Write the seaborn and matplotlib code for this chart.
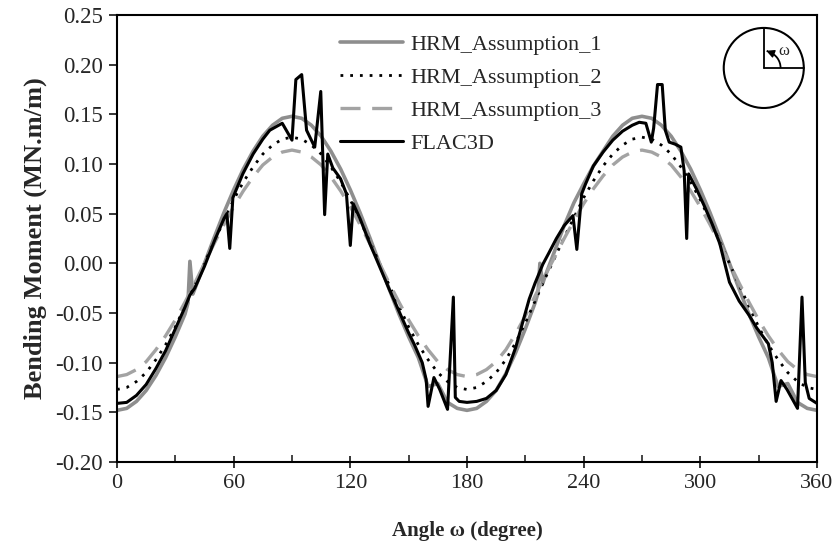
import matplotlib
matplotlib.use("Agg")
import matplotlib.pyplot as plt
import seaborn as sns
from matplotlib.patches import Circle, Arc
from matplotlib.ticker import MultipleLocator, FormatStrFormatter

# HRM curves (degree, MN.m/m)
hrm_angle = [0, 5, 10, 15, 20, 25, 30, 35, 40, 45, 50, 55, 60, 65, 70, 75, 80, 85, 90,
             95, 100, 105, 110, 115, 120, 125, 130, 135, 140, 145, 150, 155, 160, 165, 170, 175, 180,
             185, 190, 195, 200, 205, 210, 215, 220, 225, 230, 235, 240, 245, 250, 255, 260, 265, 270,
             275, 280, 285, 290, 295, 300, 305, 310, 315, 320, 325, 330, 335, 340, 345, 350, 355, 360]
hrm2 = [-0.127, -0.125, -0.119, -0.110, -0.097, -0.082, -0.064, -0.043, -0.022, 0.000,
        0.022, 0.043, 0.064, 0.082, 0.097, 0.110, 0.119, 0.125, 0.127,
        0.125, 0.119, 0.110, 0.097, 0.082, 0.064, 0.043, 0.022, 0.000, -0.022,
        -0.043, -0.064, -0.082, -0.097, -0.110, -0.119, -0.125, -0.127,
        -0.125, -0.119, -0.110, -0.097, -0.080, -0.060, -0.038, -0.016, 0.005,
        0.026, 0.046, 0.066, 0.083, 0.098, 0.110, 0.119, 0.125, 0.127,
        0.125, 0.119, 0.110, 0.097, 0.082, 0.064, 0.043, 0.022, 0.000, -0.022,
        -0.043, -0.064, -0.082, -0.097, -0.110, -0.119, -0.125, -0.127]
hrm3 = [-0.114, -0.112, -0.107, -0.099, -0.087, -0.073, -0.057, -0.039, -0.020, 0.000,
        0.020, 0.039, 0.057, 0.073, 0.087, 0.099, 0.107, 0.112, 0.114,
        0.112, 0.107, 0.099, 0.087, 0.073, 0.057, 0.039, 0.020, 0.000, -0.020,
        -0.039, -0.057, -0.073, -0.087, -0.099, -0.107, -0.112, -0.114,
        -0.112, -0.107, -0.099, -0.087, -0.071, -0.053, -0.033, -0.013, 0.006,
        0.025, 0.043, 0.060, 0.075, 0.088, 0.099, 0.107, 0.112, 0.114,
        0.112, 0.107, 0.099, 0.087, 0.073, 0.057, 0.039, 0.020, 0.000, -0.020,
        -0.039, -0.057, -0.073, -0.087, -0.099, -0.107, -0.112, -0.114]

hrm1_angle = [0, 5, 10, 15, 20, 25, 30, 35, 36.5, 37.5, 39, 40, 45, 50, 55, 60, 65, 70, 75, 80, 85, 90,
              95, 100, 105, 110, 115, 120, 125, 130, 135, 140, 145, 150, 155, 160, 165, 170, 175, 180,
              185, 190, 195, 200, 205, 210, 215, 216.5, 217.5, 219, 220, 225, 230, 235, 240, 245, 250,
              255, 260, 265, 270, 275, 280, 285, 290, 295, 300, 305, 310, 315, 320, 325, 330, 335,
              340, 345, 350, 355, 360]
hrm1 = [-0.148, -0.146, -0.139, -0.128, -0.113, -0.095, -0.074, -0.051, -0.040, 0.002, -0.031, -0.026,
        0.000, 0.026, 0.051, 0.074, 0.095, 0.113, 0.128, 0.139, 0.146, 0.148,
        0.146, 0.139, 0.128, 0.113, 0.095, 0.074, 0.051, 0.026, 0.000, -0.026,
        -0.051, -0.074, -0.095, -0.124, -0.121, -0.140, -0.146, -0.148,
        -0.146, -0.139, -0.128, -0.111, -0.090, -0.066, -0.040, -0.030, 0.000, -0.020, -0.014,
        0.012, 0.038, 0.061, 0.080, 0.098, 0.113, 0.128, 0.139, 0.146, 0.148,
        0.146, 0.139, 0.128, 0.113, 0.095, 0.074, 0.051, 0.026, 0.000, -0.026,
        -0.051, -0.074, -0.095, -0.124, -0.121, -0.140, -0.146, -0.148]

# FLAC3D result with its spikes
flac_angle = [0, 5, 10, 15, 20, 25, 30, 35, 37.5, 40, 45, 50, 55, 56.5, 58, 59.6, 64.7, 70, 75,
              78.6, 85, 90, 92, 95, 97.5, 101.7, 104.8, 106.8, 108.4, 111, 115, 118, 120, 121.5,
              125, 130, 135, 140, 145, 150, 153, 157, 159, 160, 163, 166, 170, 173, 174, 176, 180,
              185, 190, 195, 200, 205, 210, 212, 215, 219, 222, 226, 230, 234.5, 236.5, 239, 241,
              245, 250, 255, 260, 265, 268.6, 272, 274.8, 276, 278, 280.4, 282, 284, 287, 290,
              291.7, 293, 294, 298, 302, 306, 310, 315, 320, 325, 329, 332, 335, 337, 339, 341.5,
              344.6, 350, 352.3, 354, 356, 360]
flac = [-0.141, -0.140, -0.133, -0.122, -0.106, -0.088, -0.066, -0.044, -0.032, -0.025, -0.003,
        0.022, 0.045, 0.050, 0.015, 0.066, 0.090, 0.110, 0.125,
        0.134, 0.141, 0.124, 0.185, 0.190, 0.134, 0.117, 0.173, 0.049, 0.110, 0.096, 0.085,
        0.070, 0.018, 0.060,
        0.045, 0.020, -0.003, -0.026, -0.048, -0.070, -0.082, -0.100, -0.117, -0.144, -0.115,
        -0.127, -0.147, -0.034, -0.135, -0.139, -0.140,
        -0.139, -0.136, -0.128, -0.112, -0.085, -0.050, -0.036, -0.020, -0.001, 0.010, 0.025,
        0.038, 0.048, 0.014, 0.070, 0.080,
        0.098, 0.112, 0.124, 0.133, 0.139, 0.142, 0.141, 0.122, 0.136, 0.180, 0.180, 0.134,
        0.122, 0.120, 0.117,
        0.093, 0.025, 0.090, 0.075, 0.058, 0.040, 0.020, -0.019, -0.038, -0.052, -0.065,
        -0.073, -0.081, -0.100, -0.139, -0.118,
        -0.127, -0.146, -0.034, -0.120, -0.136, -0.141]

sns.set_theme(style="white")
plt.rcParams["font.family"] = ["Liberation Serif", "DejaVu Serif"]

fig = plt.figure(figsize=(8.38, 5.47), dpi=100)
ax = fig.add_axes([0.1396, 0.1554, 0.8353, 0.8172])

sns.lineplot(x=hrm1_angle, y=hrm1, ax=ax, color="#8e8e8e", lw=2.6, sort=False,
             estimator=None, label="HRM_Assumption_1")
sns.lineplot(x=hrm_angle, y=hrm2, ax=ax, color="black", lw=2.0, sort=False,
             estimator=None, label="HRM_Assumption_2")
sns.lineplot(x=hrm_angle, y=hrm3, ax=ax, color="#a3a3a3", lw=2.4, sort=False,
             estimator=None, label="HRM_Assumption_3")
sns.lineplot(x=flac_angle, y=flac, ax=ax, color="black", lw=2.2, sort=False,
             estimator=None, label="FLAC3D")
ax.lines[1].set_linestyle((0, (1, 2.5)))
ax.lines[2].set_linestyle((0, (6, 3.5)))

ax.set_xlim(0, 360)
ax.set_ylim(-0.20, 0.25)
ax.xaxis.set_major_locator(MultipleLocator(60))
ax.xaxis.set_minor_locator(MultipleLocator(30))
ax.yaxis.set_major_locator(MultipleLocator(0.05))
ax.yaxis.set_major_formatter(FormatStrFormatter("%.2f"))
ax.tick_params(axis="x", which="major", direction="inout", length=8, width=1.3,
               labelsize=16, pad=5, bottom=True)
ax.tick_params(axis="x", which="minor", direction="in", length=5, width=1.2, bottom=True)
ax.tick_params(axis="y", which="major", direction="out", length=6, width=1.3,
               labelsize=16.5, left=True, pad=4)
for sp in ax.spines.values():
    sp.set_color("black")
    sp.set_linewidth(1.5)

ax.set_xlabel("Angle ω (degree)", fontsize=15, fontweight="bold", labelpad=20)
ax.set_ylabel("Bending Moment (MN.m/m)", fontsize=19, fontweight="bold", labelpad=6)

leg = ax.legend(loc="upper left", bbox_to_anchor=(0.319, 0.956), frameon=False, fontsize=16,
                handlelength=2.8, handletextpad=0.35, labelspacing=0.56,
                borderaxespad=0, borderpad=0)

# small sketch of the angle definition
ins = ax.inset_axes([0.861, 0.783, 0.126, 0.197])
ins.set_xlim(-1.1, 1.1)
ins.set_ylim(-1.1, 1.1)
ins.set_aspect("equal")
ins.axis("off")
ins.add_patch(Circle((0, 0), 1.0, fill=False, lw=1.5, color="black"))
ins.plot([0, 0], [0, 1], color="black", lw=1.3)
ins.plot([0, 1], [0, 0], color="black", lw=1.3)
ins.add_patch(Arc((0, 0), 0.84, 0.84, theta1=0, theta2=70, color="black", lw=1.3))
ins.annotate("", xy=(0.06, 0.43), xytext=(0.16, 0.39),
             arrowprops=dict(arrowstyle="-|>", color="black", lw=1.0, mutation_scale=12))
ins.text(0.36, 0.42, "ω", fontsize=12, ha="left", va="center")

fig.savefig("out.png", dpi=100)
